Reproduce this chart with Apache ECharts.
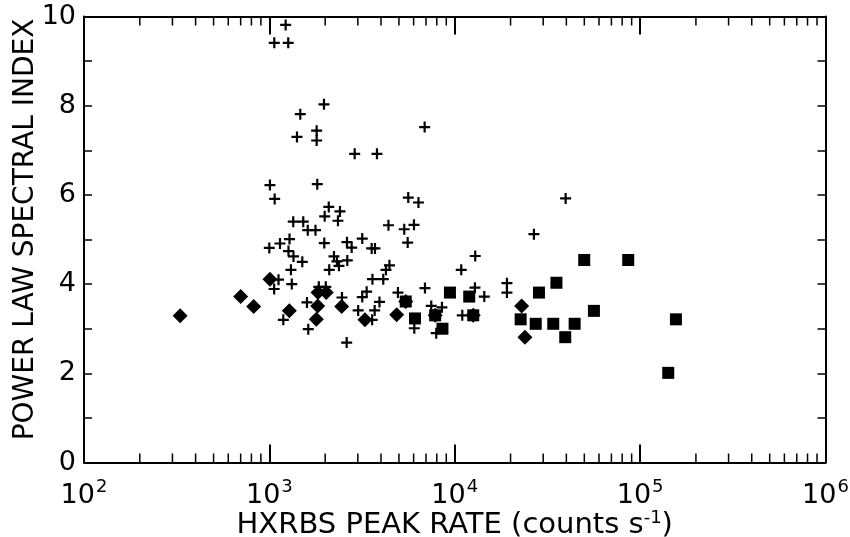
<!DOCTYPE html>
<html>
<head>
<meta charset="utf-8">
<script src="https://cdn.jsdelivr.net/npm/echarts@6/dist/echarts.min.js"></script>
<style>
  html, body { margin: 0; padding: 0; background: #fff; }
  #chart { width: 850px; height: 537px; }
</style>
</head>
<body>
<div id="chart"></div>
<script>
// peak rate (counts/s), spectral index
var plusPoints = [
  [1224, 9.81], [1063, 9.41], [1264, 9.41], [1970, 8.03], [1468, 7.81],
  [1409, 7.30], [1799, 7.44], [1799, 7.22], [6881, 7.52], [2885, 6.92],
  [3805, 6.92], [1007, 6.22], [1068, 5.91], [1813, 6.24], [5614, 5.94],
  [6372, 5.83], [2091, 5.73], [1988, 5.52], [2403, 5.63], [2344, 5.42],
  [1345, 5.40], [1523, 5.40], [1611, 5.21], [1773, 5.21], [4390, 5.32],
  [5340, 5.23], [6026, 5.33], [1284, 5.01], [1141, 4.91], [999, 4.81],
  [1978, 4.92], [2622, 4.94], [2779, 4.82], [3170, 5.02], [3563, 4.80],
  [3712, 4.80], [5572, 4.93], [1268, 4.74], [1349, 4.62], [1505, 4.50],
  [2231, 4.62], [2315, 4.51], [2632, 4.53], [2373, 4.41], [2104, 4.32],
  [1307, 4.32], [4444, 4.42], [4255, 4.32], [4115, 4.11], [3598, 4.11],
  [12900, 4.63], [10840, 4.32], [1120, 4.10], [1321, 4.00], [1061, 3.89],
  [6907, 3.91], [12850, 3.92], [14430, 3.72], [19120, 4.02], [19120, 3.81],
  [26740, 5.12], [39640, 5.92], [4938, 3.81], [3348, 3.83], [3170, 3.71],
  [3926, 3.60], [2464, 3.70], [1848, 3.94], [2015, 3.94], [1595, 3.59],
  [3013, 3.41], [3698, 3.41], [3585, 3.20], [7468, 3.51], [8531, 3.48],
  [10980, 3.30], [1189, 3.20], [1621, 2.99], [2612, 2.69], [6050, 3.01],
  [7947, 2.90], [12580, 3.30]
];
var diamondPoints = [
  [330, 3.29], [700, 3.72], [823, 3.50], [1007, 4.11], [1281, 3.40],
  [1829, 3.81], [2027, 3.81], [1822, 3.51], [1791, 3.21], [2455, 3.50],
  [3278, 3.20], [4860, 3.31], [22950, 3.51], [23910, 2.81],
  [5440, 3.61], [7840, 3.30], [12580, 3.30]
];
var squarePoints = [
  [5440, 3.61], [7840, 3.30], [12580, 3.30],
  [6101, 3.23], [8584, 3.00], [9421, 3.81], [11970, 3.72], [22670, 3.21],
  [27340, 3.11], [33990, 3.11], [44330, 3.11], [39450, 2.81], [28460, 3.81],
  [35360, 4.03], [49940, 4.54], [86270, 4.54], [56330, 3.40], [156000, 3.21],
  [141800, 2.01]
];
var xDecades = [2, 3, 4, 5, 6];
var yTicks = [0, 2, 4, 6, 8, 10];

// minor ticks 2..9 in each decade
var minorTicks = [];
for (var d = 0; d < xDecades.length - 1; d++) {
  for (var m = 2; m <= 9; m++) minorTicks.push([m * Math.pow(10, xDecades[d]), 0]);
}

var font = '"DejaVu Sans", sans-serif';
var black = '#000';

var myChart = echarts.init(document.getElementById('chart'));

var xCommon = {
  type: 'log',
  logBase: 10,
  min: Math.pow(10, xDecades[0]),
  max: Math.pow(10, xDecades[xDecades.length - 1]),
  splitLine: { show: false },
  axisLine: { show: true, onZero: false, lineStyle: { color: black, width: 2 } },
  axisTick: { show: true, inside: true, length: 18, lineStyle: { color: black, width: 2 } }
};
var yCommon = {
  type: 'value',
  min: yTicks[0],
  max: yTicks[yTicks.length - 1],
  interval: 2,
  splitLine: { show: false },
  axisLine: { show: true, onZero: false, lineStyle: { color: black, width: 2 } },
  axisTick: { show: true, inside: true, length: 8, lineStyle: { color: black, width: 1.5 } },
  minorTick: { show: true, splitNumber: 2, length: 8, lineStyle: { color: black, width: 1.5 } }
};

myChart.setOption({
  animation: false,
  backgroundColor: '#fff',
  grid: { left: 84, right: 24.5, top: 16.5, bottom: 74.5, outerBoundsMode: 'none' },
  xAxis: [
    Object.assign({}, xCommon, {
      position: 'bottom',
      name: 'HXRBS PEAK RATE (counts s{s|-1})',
      nameLocation: 'middle',
      nameMoveOverlap: false,
      nameGap: 47,
      nameTextStyle: {
        color: black, fontFamily: font, fontSize: 29,
        rich: { s: { fontSize: 18, fontFamily: font, color: black, padding: [0, 0, 14, 0] } }
      },
      axisLabel: {
        margin: 16,
        color: black,
        fontFamily: font,
        formatter: function (v) {
          return '{b|10}{s|' + Math.round(Math.log(v) / Math.LN10) + '}';
        },
        rich: {
          b: { fontSize: 27, fontFamily: font, color: black },
          s: { fontSize: 18, fontFamily: font, color: black, padding: [0, 0, 16, 1] }
        }
      }
    }),
    Object.assign({}, xCommon, {
      position: 'top',
      axisLabel: { show: false }
    })
  ],
  yAxis: [
    Object.assign({}, yCommon, {
      position: 'left',
      name: 'POWER LAW SPECTRAL INDEX',
      nameLocation: 'middle',
      nameMoveOverlap: false,
      nameGap: 44,
      nameTextStyle: { color: black, fontFamily: font, fontSize: 28, padding: [0, 0, 0, 20] },
      axisLabel: { color: black, fontFamily: font, fontSize: 27, margin: 8 }
    }),
    Object.assign({}, yCommon, {
      position: 'right',
      axisLabel: { show: false }
    })
  ],
  series: [
    {
      type: 'custom',
      xAxisIndex: 0,
      yAxisIndex: 0,
      silent: true,
      z: 10,
      data: minorTicks,
      renderItem: function (params, api) {
        var x = api.coord([api.value(0), 0])[0];
        var cs = params.coordSys;
        return {
          type: 'group',
          children: [
            { type: 'line', shape: { x1: x, y1: cs.y + cs.height, x2: x, y2: cs.y + cs.height - 9 },
              style: { stroke: black, lineWidth: 1.5 } },
            { type: 'line', shape: { x1: x, y1: cs.y, x2: x, y2: cs.y + 9 },
              style: { stroke: black, lineWidth: 1.5 } }
          ]
        };
      }
    },
    {
      name: 'plus',
      type: 'scatter',
      data: plusPoints,
      symbol: 'path://M4,0H6V4H10V6H6V10H4V6H0V4H4Z',
      symbolSize: 11,
      itemStyle: { color: black, opacity: 1 }
    },
    {
      name: 'diamond',
      type: 'scatter',
      data: diamondPoints,
      symbol: 'diamond',
      symbolSize: 15,
      itemStyle: { color: black, opacity: 1 }
    },
    {
      name: 'square',
      type: 'scatter',
      data: squarePoints,
      symbol: 'rect',
      symbolSize: 12,
      itemStyle: { color: black, opacity: 1 }
    }
  ]
});
</script>
</body>
</html>
